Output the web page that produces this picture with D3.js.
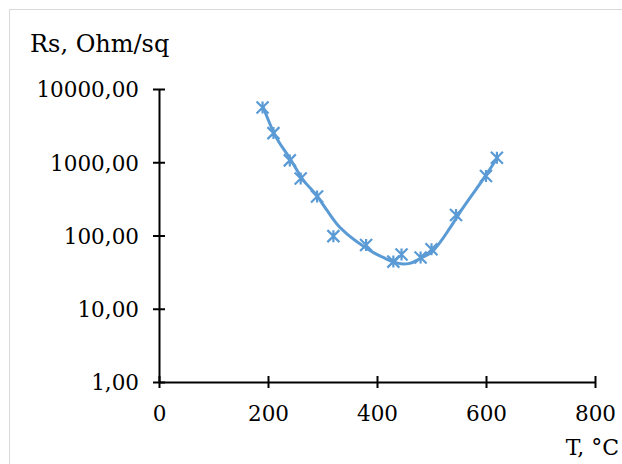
<!DOCTYPE html>
<html>
<head>
<meta charset="utf-8">
<script src="https://cdn.jsdelivr.net/npm/d3@7"></script>
<style>
  body { margin: 0; background: #fff; }
  text { font-family: "DejaVu Serif", "Liberation Serif", serif; fill: #000; }
</style>
</head>
<body>
<svg id="chart"></svg>
<script>
// measured points
var temps = [190, 210, 240, 260, 290, 320, 380, 430, 445, 480, 500, 545, 600, 620];
var rs = [5600, 2500, 1060, 600, 340, 98, 74, 44, 55, 50, 65, 190, 650, 1150];

// trend curve
var trendT = [191, 211, 242, 262, 290, 310, 328, 347, 372, 396, 415, 429, 448, 460, 479, 501, 534, 549, 598, 622];
var trendR = [5680, 2500, 1074, 610, 346, 211, 139, 102, 74, 57, 48.8, 43.9, 40.8, 41.6, 48.5, 60, 127, 190, 635, 1190];

var xTicks = [0, 200, 400, 600, 800];
var yTicks = [1, 10, 100, 1000, 10000];

var width = 622, height = 464;
var color = "#5B9BD5";

var svg = d3.select("#chart").attr("width", width).attr("height", height);

svg.append("rect")
    .attr("x", 9.5).attr("y", 9.5)
    .attr("width", 630).attr("height", 470)
    .attr("fill", "none")
    .attr("stroke", "#d9d9d9");

var x = d3.scaleLinear().domain([0, 800]).range([159, 595]);
var y = d3.scaleLog().domain([1, 10000]).range([382, 89]);

var fmt = function (d) { return d3.format(".2f")(d).replace(".", ","); };

// y axis
var yAxis = d3.axisLeft(y).tickValues(yTicks).tickFormat(fmt)
    .tickSizeInner(6).tickSizeOuter(0).tickPadding(14);
var gy = svg.append("g").attr("transform", `translate(${x(0)},0)`).call(yAxis);
gy.attr("font-family", null);
gy.select(".domain").attr("stroke", "#000").attr("stroke-width", 2);
gy.selectAll(".tick line").attr("x2", -6).attr("x1", 6).attr("stroke-width", 2);
gy.selectAll(".tick text").attr("font-size", 21.5).attr("dy", "0.36em");

// x axis
var xAxis = d3.axisBottom(x).tickValues(xTicks).tickFormat(d3.format("d"))
    .tickSizeInner(6).tickSizeOuter(0).tickPadding(18);
var gx = svg.append("g").attr("transform", `translate(0,${y(1)})`).call(xAxis);
gx.attr("font-family", null);
gx.select(".domain").attr("stroke", "#000").attr("stroke-width", 2);
gx.selectAll(".tick line").attr("y1", -6).attr("y2", 6).attr("stroke-width", 2);
gx.selectAll(".tick text").attr("font-size", 21.5);

// axis titles
svg.append("text").attr("x", 30).attr("y", 52).attr("font-size", 24).text("Rs, Ohm/sq");
svg.append("text").attr("x", 619).attr("y", 455).attr("font-size", 22)
    .attr("text-anchor", "end").text("T, °C");

// trend line
var trend = trendT.map((t, i) => [t, trendR[i]]);
var line = d3.line().x(d => x(d[0])).y(d => y(d[1])).curve(d3.curveMonotoneX);
svg.append("path").datum(trend)
    .attr("d", line)
    .attr("fill", "none")
    .attr("stroke", color)
    .attr("stroke-width", 3);

// star markers
var pts = temps.map((t, i) => [t, rs[i]]);
var s = 6;
svg.selectAll(".mark").data(pts).enter().append("path")
    .attr("class", "mark")
    .attr("transform", d => `translate(${x(d[0])},${y(d[1])})`)
    .attr("d", `M${-s},${-s}L${s},${s}M${-s},${s}L${s},${-s}M0,${-s}L0,${s}`)
    .attr("stroke", color)
    .attr("stroke-width", 2.2)
    .attr("fill", "none");
</script>
</body>
</html>
